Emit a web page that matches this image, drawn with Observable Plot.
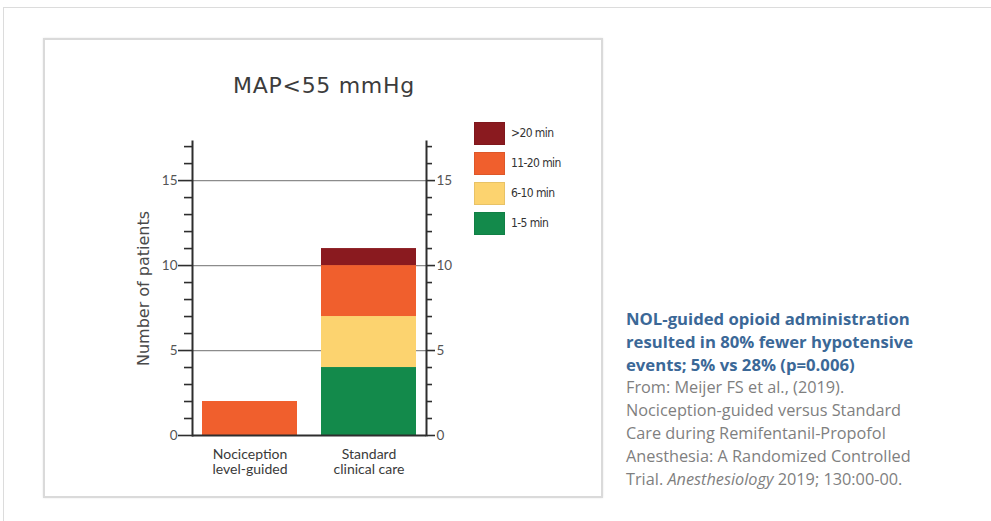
<!DOCTYPE html>
<html>
<head>
<meta charset="utf-8">
<script src="https://cdn.jsdelivr.net/npm/d3@7"></script>
<script src="https://cdn.jsdelivr.net/npm/@observablehq/plot@0.6"></script>
<style>
  html, body { margin: 0; padding: 0; background: #fff; width: 991px; height: 521px; overflow: hidden; position: relative; }
  #outer { position: absolute; left: 3px; top: 7px; width: 1000px; height: 600px; border-left: 1px solid #dcdcdc; border-top: 1px solid #dcdcdc; }
  #panel { position: absolute; left: 43px; top: 38px; width: 556px; height: 456px; border: 2px solid #dadada; box-shadow: 0 0 2px #e6e6e6; }
  #chart { position: absolute; left: 0; top: 0; }
  #title { position: absolute; left: 154px; width: 340px; top: 73px; text-align: center; font-family: "DejaVu Sans", sans-serif; font-size: 22px; color: #3c3c3c; letter-spacing: 0.7px; }
  .leg { position: absolute; left: 474px; width: 31px; height: 23px; box-sizing: border-box; border: 1px solid rgba(0,0,0,0.08); }
  .legt { position: absolute; left: 511px; font-family: "DejaVu Sans Condensed", "DejaVu Sans", sans-serif; font-size: 12px; letter-spacing: -0.6px; color: #333; line-height: 23px; }
  #note { position: absolute; left: 626px; top: 307px; width: 360px; font-family: "Open Sans", sans-serif; line-height: 23px; }
  #note .blue { color: #3b6897; font-weight: 700; font-size: 16.7px; }
  #note .gray { color: #7f7f7f; font-size: 16.3px; }
</style>
</head>
<body>
<div id="outer"></div>
<div id="panel"></div>
<div id="chart"></div>
<div id="title">MAP&lt;55 mmHg</div>
<div id="legend"></div>
<div id="note">
  <div class="blue">NOL-guided opioid administration<br>resulted in 80% fewer hypotensive<br>events; 5% vs 28% (p=0.006)</div>
  <div class="gray">From: Meijer FS et al., (2019).<br>Nociception-guided versus Standard<br>Care during Remifentanil-Propofol<br>Anesthesia: A Randomized Controlled<br>Trial. <i>Anesthesiology</i> 2019; 130:00-00.</div>
</div>
<script>
// ---- data ----
const groups = ["Nociception\nlevel-guided", "Standard\nclinical care"];
const durations = ["1-5 min", "6-10 min", "11-20 min", ">20 min"];
const durationColors = ["#138a4b", "#fcd36f", "#f05f2d", "#8a1a1f"];
const nociceptionValues = [0, 0, 2, 0];
const standardValues = [4, 3, 3, 1];
const majorTicks = [0, 5, 10, 15];
const minorTicks = [1, 2, 3, 4, 6, 7, 8, 9, 11, 12, 13, 14, 16, 17];
const gridTicks = [5, 10, 15];
const yLabel = "Number of patients";
const legendOrder = [">20 min", "11-20 min", "6-10 min", "1-5 min"];

const rows = [];
durations.forEach((d, i) => {
  rows.push({group: groups[0], duration: d, value: nociceptionValues[i]});
  rows.push({group: groups[1], duration: d, value: standardValues[i]});
});

const axisStroke = "#2e2e2e";
const tickText = {fill: "#555", fontSize: 13.5, fontFamily: "Lato, sans-serif"};
const noLabel = () => "";

const plot = Plot.plot({
  width: 600,
  height: 500,
  marginLeft: 192,
  marginRight: 174,
  marginTop: 141,
  marginBottom: 65,
  style: {fontFamily: "Lato, sans-serif", background: "transparent", overflow: "visible"},
  x: {domain: groups, paddingInner: 0.205, paddingOuter: 0.082},
  y: {domain: [0, 17.3]},
  color: {domain: durations, range: durationColors},
  marks: [
    Plot.gridY(gridTicks, {stroke: "#8c8c8c", strokeOpacity: 1, strokeWidth: 1.3}),
    Plot.barY(rows.filter(r => r.value > 0), Plot.stackY({x: "group", y: "value", fill: "duration", order: null})),
    Plot.ruleY([0], {stroke: axisStroke, strokeWidth: 2}),
    Plot.frame({anchor: "left", stroke: axisStroke, strokeWidth: 2}),
    Plot.frame({anchor: "right", stroke: axisStroke, strokeWidth: 2}),
    Plot.axisY(minorTicks, {anchor: "left", tickSize: 8, tickFormat: noLabel, stroke: axisStroke, strokeWidth: 1.6, label: null}),
    Plot.axisY(minorTicks, {anchor: "right", tickSize: 5, tickFormat: noLabel, stroke: axisStroke, strokeWidth: 1.6, label: null}),
    Plot.axisY(majorTicks, {anchor: "left", tickSize: 14, tickPadding: 1, stroke: axisStroke, strokeWidth: 1.6, label: null, ...tickText}),
    Plot.axisY(majorTicks, {anchor: "right", tickSize: 8, tickPadding: 2, stroke: axisStroke, strokeWidth: 1.6, label: null, ...tickText}),
    Plot.axisX({tickSize: 0, tickPadding: 13, label: null, fill: "#3a3a3a", fontSize: 14, lineHeight: 1.08, fontFamily: "Lato, sans-serif"}),
    Plot.text([yLabel], {frameAnchor: "left", textAnchor: "middle", rotate: -90, dx: -49, fill: "#4a4a4a", fontSize: 16, fontFamily: "DejaVu Sans, sans-serif"})
  ]
});
document.getElementById("chart").appendChild(plot);

// legend (HTML, built from the data arrays)
const legend = document.getElementById("legend");
legendOrder.forEach((d, i) => {
  const top = 122 + i * 30;
  const sw = document.createElement("div");
  sw.className = "leg";
  sw.style.top = top + "px";
  sw.style.background = durationColors[durations.indexOf(d)];
  legend.appendChild(sw);
  const t = document.createElement("div");
  t.className = "legt";
  t.style.top = top + "px";
  t.textContent = d;
  legend.appendChild(t);
});
</script>
</body>
</html>
